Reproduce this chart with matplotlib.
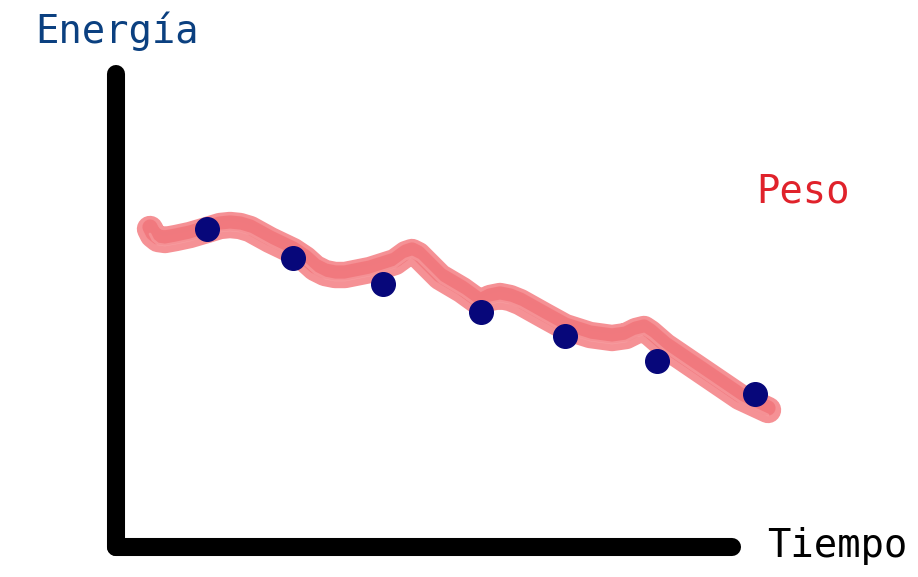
import matplotlib
matplotlib.use('Agg')
import matplotlib.pyplot as plt

# energy measurements (blue dots)
tiempo = [91, 177, 267, 365, 449, 541, 639]
energia = [318, 289, 263, 235, 211, 186, 153]

# hand-drawn weight trace (red brush)
peso_t = [34, 37, 42, 49, 60, 74, 91, 104, 114, 124, 134, 154, 177, 189,
          199, 209, 219, 229, 254, 279, 290, 296, 302, 309, 324, 346, 364,
          374, 384, 394, 404, 429, 449, 474, 496, 510, 520, 528, 534,
          549, 574, 599, 624, 652]
peso_v = [318, 312, 308, 307, 309, 312, 317, 321, 322, 321, 318, 307, 296,
          288, 279, 274, 272, 272, 277, 285, 293, 295, 292, 285, 270, 257,
          244, 249, 251, 249, 245, 231, 220, 212, 209, 211, 216, 218, 214,
          201, 184, 167, 150, 137]

fig = plt.figure(figsize=(9.18, 5.77), dpi=100)
ax = fig.add_axes([116 / 918, 1 - 547 / 577, (732 - 116) / 918, (547 - 74) / 577])
ax.set_xlim(0, 616)
ax.set_ylim(0, 473)

for side in ['top', 'right']:
    ax.spines[side].set_visible(False)
for side in ['left', 'bottom']:
    ax.spines[side].set_linewidth(13)
    ax.spines[side].set_capstyle('round')
    ax.spines[side].set_color('black')
ax.set_xticks([])
ax.set_yticks([])

# brush layers
brush = dict(solid_capstyle='round', solid_joinstyle='round', clip_on=False)
ax.plot(peso_t, peso_v, color='#f58b8f', lw=19, alpha=0.95, **brush)
ax.plot(peso_t, [v + 2 for v in peso_v], color='#ef6369', lw=11, alpha=0.5, **brush)
ax.plot(peso_t, [v - 5 for v in peso_v], color='#f9aaac', lw=2, alpha=0.5, **brush)
ax.plot(peso_t, [v + 6 for v in peso_v], color='#f07a80', lw=2, alpha=0.4, **brush)

ax.plot(tiempo, energia, 'o', color='#07077a', markersize=17, clip_on=False, zorder=5)

font = 'DejaVu Sans Mono'
fig.text(35 / 918, 1 - 43 / 577, 'Energía', color='#0b4080', fontsize=28,
         family=font, va='baseline', ha='left')
fig.text(756 / 918, 1 - 203 / 577, 'Peso', color='#e0222b', fontsize=28,
         family=font, va='baseline', ha='left')
fig.text(767 / 918, 1 - 557 / 577, 'Tiempo', color='black', fontsize=28,
         family=font, va='baseline', ha='left')

fig.savefig('out.png', dpi=100)
